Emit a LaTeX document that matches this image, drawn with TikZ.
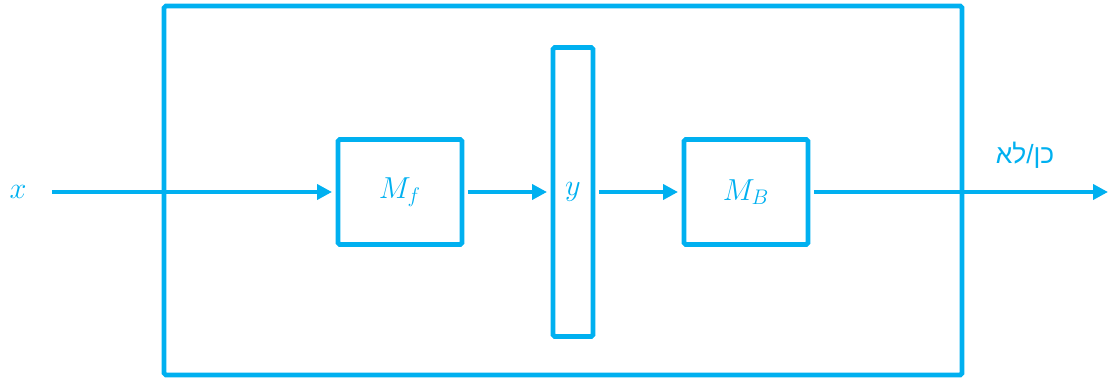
\documentclass[tikz,border=0pt]{standalone}
\usepackage{fontspec}
\newfontfamily\hebfont[Script=Hebrew]{Liberation Sans}
\TeXXeTstate=1
\usepackage{xcolor}
\usetikzlibrary{arrows.meta,positioning}
\definecolor{diagcyan}{RGB}{0,176,240}

\begin{document}
\begin{tikzpicture}[
  x=0.02cm, y=-0.02cm,
  font=\fontsize{18}{20}\selectfont,
  every node/.style={text=diagcyan},
  block/.style={
    draw=diagcyan,
    line width=2.7pt,
    rounded corners=1pt,
    minimum width=2.48cm,
    minimum height=2.1cm,
    outer sep=0.12cm
  },
  bar/.style={
    draw=diagcyan,
    line width=2.7pt,
    rounded corners=1pt,
    minimum width=0.8cm,
    minimum height=5.78cm,
    outer sep=0.12cm
  },
  frame/.style={
    draw=diagcyan,
    line width=2.7pt,
    rounded corners=1pt,
    minimum width=15.96cm,
    minimum height=7.38cm
  },
  flow/.style={
    -{Triangle[length=3mm,width=3mm]},
    draw=diagcyan,
    line width=2.5pt
  }
]
\useasboundingbox (0,0) rectangle (1108,378);

%-----------------------------
% Outer frame
%-----------------------------
\node[frame] (outer) at (563,190.5) {};

%-----------------------------
% Inner blocks
%-----------------------------
\node[block] (mf)   at (400,192) {$M_f$};
\node[bar]   (ybar) at (573,192) {$y$};
\node[block] (mb)   at (746,192) {$M_B$};

%-----------------------------
% Input and output
%-----------------------------
\node (xin) at (18,192) {$x$};
\coordinate (xstart) at (52,192);
\coordinate (yend) at (1108,192);
\node (answer) at (1025,155) {\hebfont\fontsize{15}{17}\selectfont\beginR כן/לא\endR};

%-----------------------------
% Signal path
%-----------------------------
\draw[flow] (xstart) -- (mf);
\draw[flow] (mf) -- (ybar);
\draw[flow] (ybar) -- (mb);
\draw[flow] (mb) -- (yend);

\end{tikzpicture}
\end{document}
